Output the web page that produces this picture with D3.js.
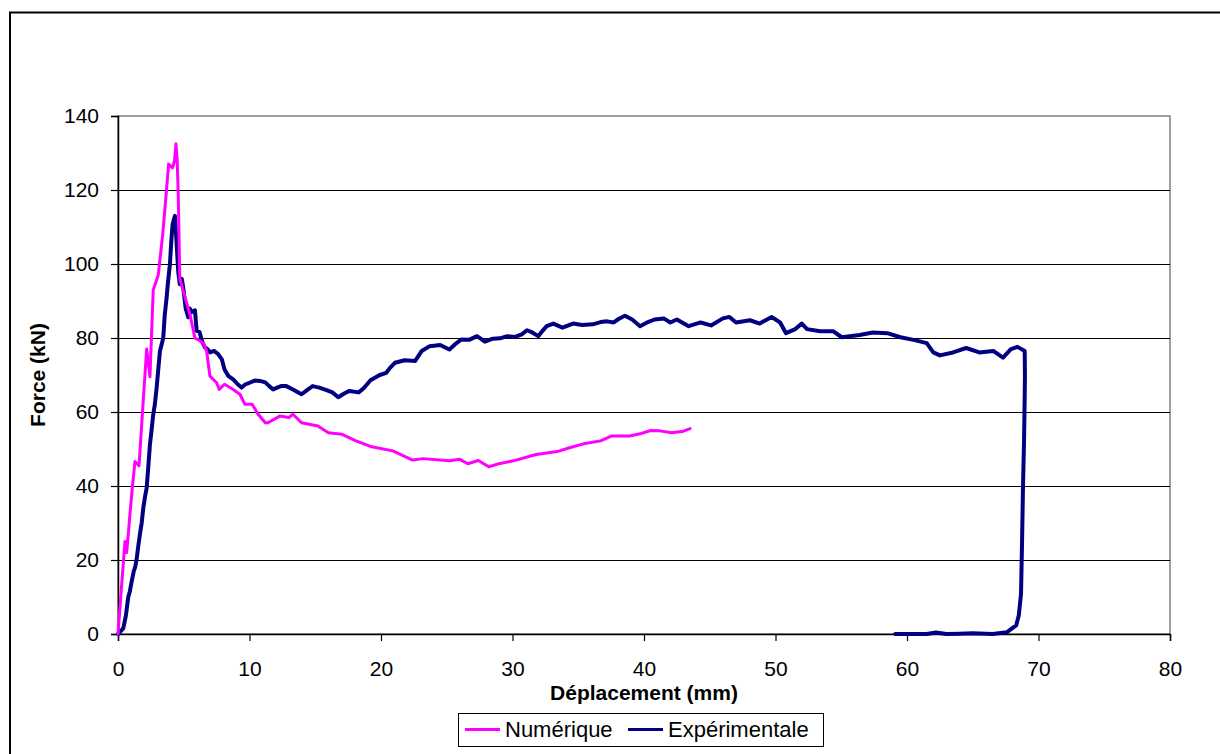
<!DOCTYPE html>
<html><head><meta charset="utf-8">
<script src="https://cdn.jsdelivr.net/npm/d3@7"></script>
<style>
body{margin:0;background:#fff;}
text{font-family:"Liberation Sans",Arial,sans-serif;fill:#000;}
</style></head>
<body><svg id="c" width="1220" height="754"></svg>
<script>
const xTicks=[0,10,20,30,40,50,60,70,80];
const yTicks=[0,20,40,60,80,100,120,140];
const seriesNames=["Numérique","Expérimentale"];
const seriesColors=["#FF00FF","#000080"];
const numX=[0,0.25,0.53,0.66,0.9,1.1,1.29,1.6,1.9,2.18,2.43,2.68,3.06,3.4,3.7,3.85,4.15,4.3,4.41,4.5,4.58,4.7,5.1,5.47,5.85,6.48,6.74,6.99,7.5,7.7,8.1,8.76,9.27,9.65,10.2,10.66,11.2,11.4,12.3,13.0,13.3,13.96,15.2,16.0,17.0,18.1,19.3,20.9,22.4,23.2,25.2,26.0,26.6,27.4,28.2,29.05,30.06,31.8,33.4,34.4,35.4,36.7,37.5,38.9,39.7,40.5,41.2,42.1,42.9,43.5];
const numY=[0,12,25,22,32,40,46.6,45.5,62,77,69.5,93,97,108,120.5,127,126,128,132.5,128,119,96,91,86.4,80,78.7,76.5,69.7,67.9,66.1,67.5,66.1,64.8,62.1,62.1,59.4,57.1,57.1,58.9,58.5,59.4,57.1,56.2,54.4,54,52.2,50.6,49.5,47,47.4,46.8,47.2,46,46.9,45.2,46.1,46.8,48.5,49.3,50.4,51.4,52.2,53.5,53.5,54.1,55,54.9,54.4,54.7,55.5];
const expX=[0,0.4,0.6,0.78,0.9,1.03,1.2,1.3,1.41,1.55,1.67,1.8,1.92,2.05,2.18,2.3,2.43,2.55,2.68,2.8,2.94,3.05,3.19,3.3,3.44,3.55,3.7,3.8,3.95,4.05,4.15,4.25,4.33,4.4,4.5,4.58,4.7,4.85,4.96,5.15,5.34,5.45,5.6,5.85,5.98,6.2,6.4,6.6,6.8,7.0,7.3,7.6,7.9,8.1,8.4,8.76,9.1,9.4,9.7,10.0,10.4,10.8,11.2,11.5,11.8,12.1,12.4,12.8,13.3,13.96,14.4,14.8,15.3,15.86,16.3,16.75,17.2,17.6,18.3,18.7,19.2,19.9,20.4,20.7,21.06,21.8,22.6,23.1,23.7,24.5,25.2,25.7,26.1,26.7,27.3,27.9,28.5,29.05,29.6,30.2,30.7,31.1,31.5,31.96,32.3,32.6,33.1,33.8,34.6,35.3,36.1,36.7,37.2,37.7,38.1,38.55,39.1,39.7,40.3,40.8,41.5,42,42.5,43.4,44.3,45.1,46.0,46.5,47.0,48.06,48.8,49.7,50.35,50.8,51.5,52,52.4,53.4,54.4,55.04,56.4,57.4,58.5,59.5,60.5,61.5,62,62.5,63.5,64.5,65.5,66.56,67.3,67.9,68.4,68.95,68.97,68.95,68.9,68.82,68.75,68.67,68.5,68.3,67.6,66.5,65,64,63,62.2,61.5,60,59.1];
const expY=[0,1.5,5,10,11.5,14,17,18,20,24,27,30,34,37,39.5,45,51.3,55,59.4,62,66.6,71,76.5,78,80,86,91,95,100,106,110.7,112,113,109,103,98,94.5,96,93.6,88,85.6,88,87,87.5,82,81.6,79,77.5,77,76.1,76.5,75.7,74.2,71.5,69.7,68.8,67.5,66.6,67.5,67.9,68.5,68.4,68,67,66.1,66.6,67,67,66.1,64.8,66,67,66.6,65.9,65.3,64,65,65.7,65.3,66.5,68.6,70,70.6,72,73.3,74,73.8,76.5,77.8,78.1,76.9,78.5,79.6,79.5,80.5,79,79.8,79.9,80.5,80.3,81,82.1,81.5,80.5,82,83.2,83.9,82.8,83.9,83.5,83.7,84.3,84.5,84.2,85.2,86,85,83.2,84.3,85,85.3,84.2,85,83.2,84.2,83.4,85.3,85.7,84.2,84.8,83.9,85.7,84.2,81.3,82.4,83.9,82.4,81.8,81.8,80.2,80.8,81.5,81.3,80.2,79.5,78.6,76.1,75.3,76.1,77.3,76.1,76.5,74.7,77,77.6,76.5,70,64,52,39.6,25,10.8,5,2.3,0.5,0,0.2,0.1,0,0.4,0,0,0];

const svg=d3.select("#c");
const L=118,R=1170,T=116,B=634;
const x=d3.scaleLinear().domain([0,80]).range([L,R]);
const y=d3.scaleLinear().domain([0,140]).range([B,T]);

// outer border
svg.append("rect").attr("x",10).attr("y",12.5).attr("width",1230).attr("height",760)
  .attr("fill","none").attr("stroke","#000").attr("stroke-width",2);

// plot frame (grey top/right)
svg.append("rect").attr("x",L).attr("y",T).attr("width",R-L).attr("height",B-T)
  .attr("fill","none").attr("stroke","#808080").attr("stroke-width",1.5);

// gridlines
svg.append("g").selectAll("line").data(yTicks.filter(d=>d>0&&d<140)).join("line")
  .attr("x1",L).attr("x2",R).attr("y1",d=>Math.round(y(d))+0.5).attr("y2",d=>Math.round(y(d))+0.5)
  .attr("stroke","#000").attr("stroke-width",1);

// axes
const xa=svg.append("g").attr("transform",`translate(0,${B})`)
  .call(d3.axisBottom(x).tickValues(xTicks).tickSize(7).tickPadding(20).tickFormat(d3.format("d")));
const ya=svg.append("g").attr("transform",`translate(${L},0)`)
  .call(d3.axisLeft(y).tickValues(yTicks).tickSize(7).tickPadding(12).tickFormat(d3.format("d")));
[xa,ya].forEach(a=>{
  a.select(".domain").attr("stroke","#000").attr("stroke-width",1.5);
  a.selectAll(".tick line").attr("stroke","#000").attr("stroke-width",1.2);
  a.selectAll(".tick text").attr("font-size",21).attr("font-family","Liberation Sans, Arial, sans-serif").attr("fill","#000");
});

// series
const line=d3.line().x(d=>x(d[0])).y(d=>y(d[1]));
const numData=numX.map((v,i)=>[v,numY[i]]);
const expData=expX.map((v,i)=>[v,expY[i]]);
svg.append("path").datum(expData).attr("d",line).attr("fill","none")
  .attr("stroke",seriesColors[1]).attr("stroke-width",4).attr("stroke-linejoin","round").attr("stroke-linecap","round");
svg.append("path").datum(numData).attr("d",line).attr("fill","none")
  .attr("stroke",seriesColors[0]).attr("stroke-width",3).attr("stroke-linejoin","round").attr("stroke-linecap","round");

// axis titles
svg.append("text").attr("x",(L+R)/2).attr("y",700).attr("text-anchor","middle")
  .attr("font-size",21).attr("font-weight","bold").text("Déplacement (mm)");
svg.append("text").attr("transform",`translate(45,${(T+B)/2}) rotate(-90)`).attr("text-anchor","middle")
  .attr("font-size",21).attr("font-weight","bold").text("Force (kN)");

// legend
const lg=svg.append("g");
lg.append("rect").attr("x",458.5).attr("y",713.5).attr("width",365).attr("height",33)
  .attr("fill","#fff").attr("stroke","#000").attr("stroke-width",1);
const lx=[465,628];
seriesNames.forEach((n,i)=>{
  lg.append("line").attr("x1",lx[i]).attr("x2",lx[i]+35).attr("y1",729.5).attr("y2",729.5)
    .attr("stroke",seriesColors[i]).attr("stroke-width",3);
  lg.append("text").attr("x",lx[i]+40).attr("y",737).attr("font-size",22).text(n);
});
</script></body></html>
